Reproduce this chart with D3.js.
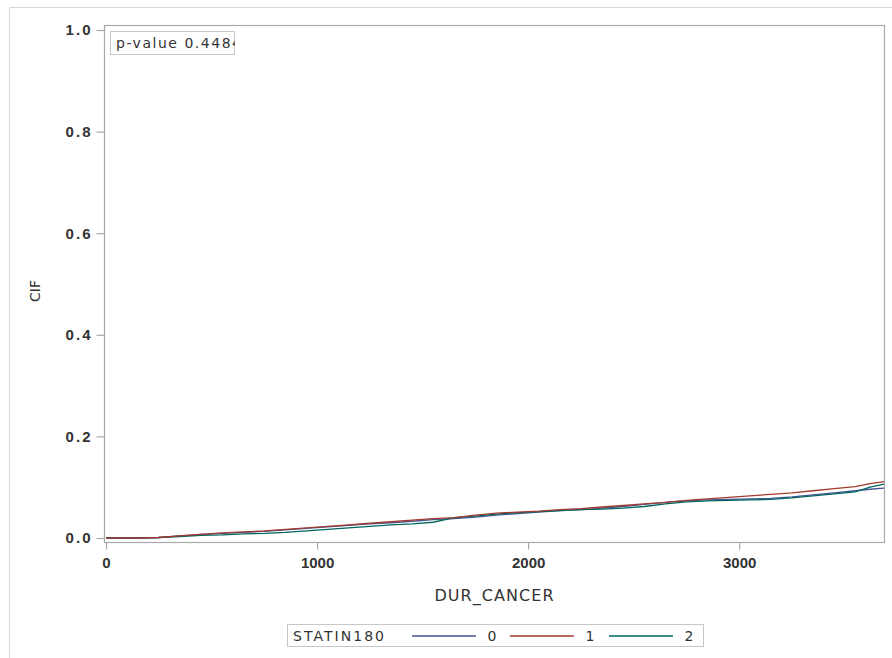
<!DOCTYPE html>
<html><head><meta charset="utf-8">
<script src="https://cdn.jsdelivr.net/npm/d3@7"></script>
<style>body{margin:0;background:#fff}svg{display:block}text{font-family:"DejaVu Sans",sans-serif;fill:#333}</style>
</head><body><svg id="c" width="892" height="658"></svg>
<script>
const times = [0,150,250,350,450,550,650,750,850,950,1050,1150,1250,1350,1450,1550,1650,1750,1850,1950,2050,2150,2250,2350,2450,2550,2650,2750,2850,2950,3050,3150,3250,3350,3450,3550,3620,3686];
const cif0 = [0,0,0.001,0.004,0.007,0.009,0.011,0.013,0.016,0.019,0.022,0.025,0.028,0.030,0.033,0.036,0.038,0.041,0.045,0.048,0.051,0.054,0.056,0.059,0.062,0.066,0.070,0.073,0.075,0.076,0.077,0.078,0.081,0.085,0.089,0.093,0.096,0.098];
const cif1 = [0,0,0.001,0.004,0.007,0.010,0.012,0.014,0.017,0.020,0.023,0.026,0.029,0.032,0.035,0.038,0.040,0.045,0.049,0.051,0.053,0.056,0.058,0.061,0.064,0.067,0.070,0.074,0.077,0.080,0.083,0.086,0.089,0.093,0.097,0.101,0.107,0.111];
const cif2 = [0,0,0.001,0.003,0.005,0.006,0.008,0.009,0.011,0.014,0.017,0.020,0.023,0.026,0.028,0.031,0.040,0.043,0.047,0.050,0.052,0.054,0.056,0.057,0.059,0.062,0.067,0.071,0.073,0.074,0.075,0.076,0.079,0.083,0.087,0.091,0.100,0.106];
const groups = ["0","1","2"];
const colors = ["#445694","#A23A2E","#01665E"];
const xTicks = [0,1000,2000,3000];
const yTicks = [0,0.2,0.4,0.6,0.8,1.0];
const pText = "p-value 0.4484";

const svg = d3.select("#c");
svg.append("path").attr("d","M9.5,658 V7.5 H892").attr("fill","none").attr("stroke","#d8d8d8");

const x = d3.scaleLinear().domain([0,3686]).range([106,884]);
const y = d3.scaleLinear().domain([0,1]).range([538,30]);
const L=104.5,R=884.5,T=25.5,B=542.5;

svg.append("rect").attr("x",L).attr("y",T).attr("width",R-L).attr("height",B-T)
  .attr("fill","none").attr("stroke","#a8a8a8").attr("stroke-width",1.2);

const yAxis = d3.axisLeft(y).tickValues(yTicks).tickFormat(d3.format(".1f")).tickSize(8).tickPadding(6);
const ga = svg.append("g").attr("transform",`translate(${L},0)`).call(yAxis);
ga.select(".domain").remove();
ga.selectAll("line").attr("stroke","#a8a8a8").attr("stroke-width",1.2);
ga.selectAll("text").style("font-family","'Liberation Sans',Arial,sans-serif").style("font-size","15px").style("font-weight","bold").attr("fill","#333").attr("textLength",25);

const xAxis = d3.axisBottom(x).tickValues(xTicks).tickFormat(d3.format("d")).tickSize(7).tickPadding(8);
const gx = svg.append("g").attr("transform",`translate(0,${B})`).call(xAxis);
gx.select(".domain").remove();
gx.selectAll("line").attr("stroke","#a8a8a8").attr("stroke-width",1.2);
gx.selectAll("text").style("font-family","'Liberation Sans',Arial,sans-serif").style("font-size","15px").style("font-weight","bold").attr("fill","#333");

svg.append("text").attr("x",494).attr("y",601).attr("text-anchor","middle").style("font-size","16px").attr("textLength",119).text("DUR_CANCER");
svg.append("text").attr("transform","translate(40,291) rotate(-90)").attr("text-anchor","middle").style("font-size","14px").text("CIF");

svg.append("clipPath").attr("id","pc").append("rect").attr("x",L).attr("y",T).attr("width",R-L).attr("height",B-T);
const line = d3.line().x(d=>x(d[0])).y(d=>y(d[1]));
const series = [cif0,cif1,cif2];
[0,2,1].forEach(i=>{
  svg.append("path").attr("clip-path","url(#pc)")
    .attr("d", line(times.map((t,k)=>[t,series[i][k]])))
    .attr("fill","none").attr("stroke",colors[i]).attr("stroke-width",1.3);
});

svg.append("clipPath").attr("id","pv").append("rect").attr("x",110).attr("y",31).attr("width",125).attr("height",24);
svg.append("rect").attr("x",110.5).attr("y",31.5).attr("width",124).attr("height",23).attr("fill","#fff").attr("stroke","#c8c8c8");
svg.append("text").attr("clip-path","url(#pv)").attr("x",116).attr("y",48).style("font-size","14px").attr("textLength",125).text(pText);

svg.append("rect").attr("x",287.5).attr("y",624.5).attr("width",416).attr("height",22).attr("fill","#fff").attr("stroke","#c8c8c8");
svg.append("text").attr("x",293).attr("y",641).style("font-size","14px").attr("textLength",91).text("STATIN180");
const lx = [412,510,609];
groups.forEach((g,i)=>{
  svg.append("line").attr("x1",lx[i]).attr("x2",lx[i]+64).attr("y1",636).attr("y2",636).attr("stroke",colors[i]).attr("stroke-width",1.3);
  svg.append("text").attr("x",lx[i]+80).attr("y",641).attr("text-anchor","middle").style("font-size","14px").text(g);
});
</script></body></html>
